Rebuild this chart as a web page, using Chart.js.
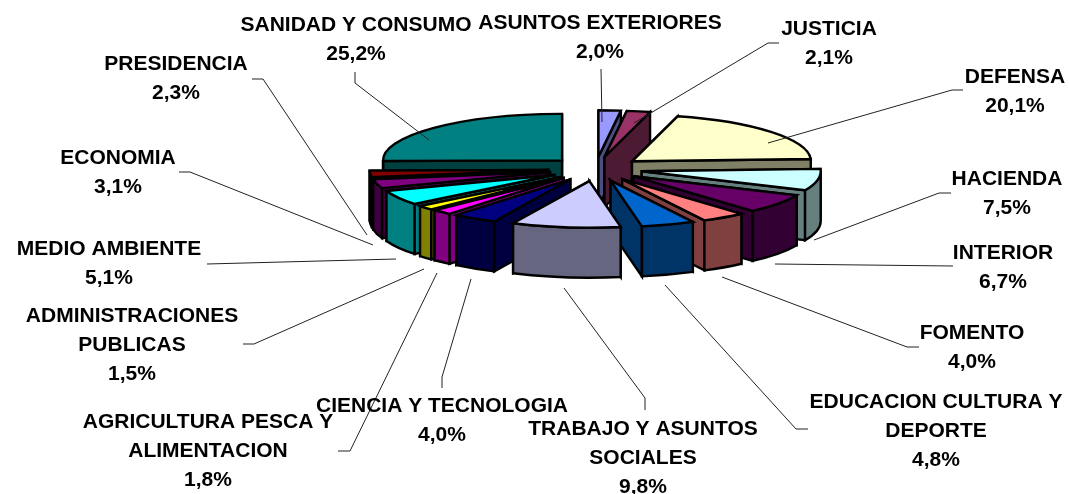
<!DOCTYPE html>
<html><head><meta charset="utf-8">
<style>html,body{margin:0;padding:0;background:#fff}#w{position:relative;width:1069px;height:494px}</style>
<script src="https://cdn.jsdelivr.net/npm/chart.js@4"></script>
</head><body><div id="w"><canvas id="c" width="1069" height="494"></canvas></div>
<script>
const categories = ["ASUNTOS EXTERIORES","JUSTICIA","DEFENSA","HACIENDA","INTERIOR","FOMENTO","EDUCACION CULTURA Y DEPORTE","TRABAJO Y ASUNTOS SOCIALES","CIENCIA Y TECNOLOGIA","AGRICULTURA PESCA Y ALIMENTACION","ADMINISTRACIONES PUBLICAS","MEDIO AMBIENTE","ECONOMIA","PRESIDENCIA","SANIDAD Y CONSUMO"];
const values = [2.0,2.1,20.1,7.5,6.7,4.0,4.8,9.8,4.0,1.8,1.5,5.1,3.1,2.3,25.2];
const colors = ["#9999FF","#993366","#FFFFCC","#CCFFFF","#660066","#FF8080","#0066CC","#CCCCFF","#000080","#FF00FF","#FFFF00","#00FFFF","#800080","#800000","#008080"];
const wallColors = ["#4D4D80","#4D1A33","#808066","#668080","#330033","#804040","#003366","#666680","#000040","#800080","#808000","#008080","#400040","#400000","#004040"];
// label layout: wrapped name lines, centre x, first line centre y
const labelLines = [["ASUNTOS EXTERIORES"],["JUSTICIA"],["DEFENSA"],["HACIENDA"],["INTERIOR"],["FOMENTO"],["EDUCACION CULTURA Y","DEPORTE"],["TRABAJO Y ASUNTOS","SOCIALES"],["CIENCIA Y TECNOLOGIA"],["AGRICULTURA PESCA Y","ALIMENTACION"],["ADMINISTRACIONES","PUBLICAS"],["MEDIO AMBIENTE"],["ECONOMIA"],["PRESIDENCIA"],["SANIDAD Y CONSUMO"]];
const labelAt = [[600,23.5],[829,29.5],[1015,77.5],[1007,179.5],[1003,253.5],[972,333.5],[936,402.5],[643,429.5],[442,406.5],[208,422.5],[132,316.5],[109,249.5],[118,158.5],[176,64.5],[356,25.5]];
const leaders = [
 [[601,69],[602,122]],
 [[779,43],[768,43],[634,123]],
 [[963,90],[952,90],[768,143]],
 [[951,193],[939,193],[814,240]],
 [[953,266],[775,264]],
 [[919,347],[907,347],[722,277]],
 [[808,429],[796,429],[665,285]],
 [[645,410],[645,398],[564,288]],
 [[442,388],[442,377],[471,279]],
 [[338,451],[350,451],[437,273]],
 [[243,344],[254,344],[424,269]],
 [[207,264],[396,259]],
 [[179,172],[190,172],[373,245]],
 [[252,79],[263,79],[367,235]],
 [[355,72],[355,83],[429,140]]
];
const CX = 595.5, CY = 169, SQUASH = 0.26, DEPTH = 50, EXPLODE = 47, RADIUS = 179, LINE_H = 28.7;
const FONT = 'bold 21px "Liberation Sans", Arial, sans-serif';

const pie3d = {
  id: 'pie3d',
  beforeDatasetDraw(chart) {
    const ctx = chart.ctx, meta = chart.getDatasetMeta(0);
    const order = meta.data.map((el, i) => {
      const mid = (el.startAngle + el.endAngle) / 2;
      return {el, i, mid, depth: Math.sin(mid)};
    }).sort((a, b) => a.depth - b.depth);
    for (const s of order) {
      const {el, i, mid} = s, R = el.outerRadius, a0 = el.startAngle, a1 = el.endAngle;
      const ex = Math.cos(mid) * EXPLODE, ey = Math.sin(mid) * EXPLODE;
      const px = CX + ex, py = CY + ey * SQUASH;
      const rim = a => [px + Math.cos(a) * R, py + Math.sin(a) * R * SQUASH];
      ctx.save();
      ctx.lineWidth = 2.4; ctx.strokeStyle = '#000'; ctx.lineJoin = 'miter'; ctx.miterLimit = 4;
      ctx.fillStyle = wallColors[i];
      // walls, farthest first
      const walls = [];
      for (const a of [a0, a1]) {
        const [rx, ry] = rim(a);
        walls.push({y: (py + ry) / 2, draw() {
          ctx.beginPath(); ctx.moveTo(px, py); ctx.lineTo(rx, ry);
          ctx.lineTo(rx, ry + DEPTH); ctx.lineTo(px, py + DEPTH); ctx.closePath();
        }});
      }
      const b0 = Math.max(a0, 0), b1 = Math.min(a1, Math.PI);
      if (b1 > b0) walls.push({y: 1e6, draw() {
        ctx.beginPath();
        ctx.ellipse(px, py, R, R * SQUASH, 0, b0, b1);
        ctx.ellipse(px, py + DEPTH, R, R * SQUASH, 0, b1, b0, true);
        ctx.closePath();
      }});
      walls.sort((p, q) => p.y - q.y).forEach(w => { w.draw(); ctx.fill(); ctx.stroke(); });
      // top face: the library's own arc, squashed
      ctx.save();
      ctx.translate(px, py); ctx.scale(1, SQUASH); ctx.translate(-el.x, -el.y);
      el.draw(ctx);
      ctx.restore();
      ctx.beginPath(); ctx.moveTo(px, py);
      ctx.ellipse(px, py, R, R * SQUASH, 0, a0, a1);
      ctx.closePath(); ctx.stroke();
      ctx.restore();
    }
    return false;
  },
  afterDraw(chart) {
    const ctx = chart.ctx;
    ctx.save();
    ctx.strokeStyle = '#222'; ctx.lineWidth = 1;
    leaders.forEach(pts => {
      ctx.beginPath();
      pts.forEach((p, k) => k ? ctx.lineTo(p[0], p[1]) : ctx.moveTo(p[0], p[1]));
      ctx.stroke();
    });
    ctx.fillStyle = '#000'; ctx.font = FONT; ctx.textAlign = 'center'; ctx.textBaseline = 'middle';
    labelLines.forEach((lines, i) => {
      const [x, y] = labelAt[i];
      const all = lines.concat(values[i].toFixed(1).replace('.', ',') + '%');
      all.forEach((t, k) => ctx.fillText(t, x, y + k * LINE_H));
    });
    ctx.restore();
  }
};

new Chart(document.getElementById('c'), {
  type: 'pie',
  data: { labels: categories, datasets: [{ data: values, backgroundColor: colors, borderWidth: 0, radius: RADIUS }] },
  options: {
    responsive: false, animation: false,
    plugins: { legend: {display: false}, tooltip: {enabled: false} }
  },
  plugins: [pie3d]
});
</script></body></html>
